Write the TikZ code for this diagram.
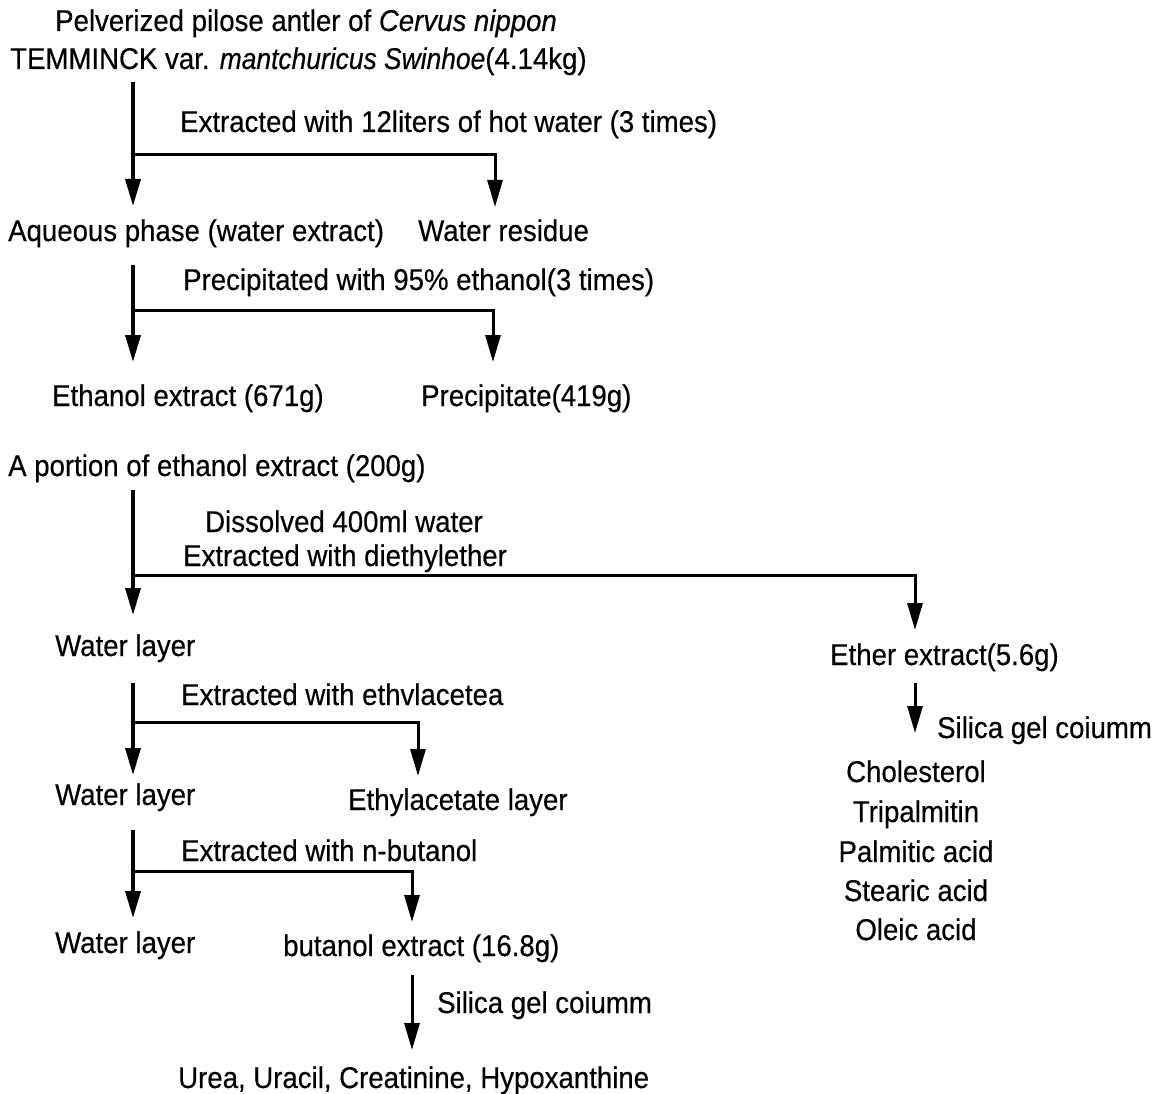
\documentclass[tikz,border=0pt]{standalone}
\usepackage{fontspec}
\setmainfont[FakeStretch=0.92,FakeBold=0.4]{Liberation Sans}
\usetikzlibrary{arrows.meta}
\tikzset{
  txt/.style={inner sep=0pt, anchor=base west, font=\fontsize{30}{36}\selectfont},
  ctxt/.style={inner sep=0pt, anchor=base, font=\fontsize{30}{36}\selectfont},
  mainline/.style={line width=3.6pt, -{Triangle[width=15pt,length=27pt]}},
  branch/.style={line width=3pt, -{Triangle[width=15pt,length=27pt]}},
}
\begin{document}
\begin{tikzpicture}[x=1pt,y=-1pt]
\useasboundingbox[fill=white] (0,0) rectangle (1170,1094);
% texts
\node[txt] (t1) at (55,31) {Pelverized pilose antler of \textit{Cervus nippon}};
\node[txt] (t2) at (10,69) {TEMMINCK var. \textit{\addfontfeature{FakeStretch=0.88}mantchuricus Swinhoe}(4.14kg)};
\node[txt] (l1) at (180,132) {Extracted with 12liters of hot water (3 times)};
\node[txt] (aq) at (8,241) {Aqueous phase (water extract)};
\node[txt] (wr) at (418,241) {Water residue};
\node[txt] (l2) at (183,290) {Precipitated with 95\% ethanol(3 times)};
\node[txt] (ee) at (52,406) {Ethanol extract (671g)};
\node[txt] (pr) at (421,406) {Precipitate(419g)};
\node[txt] (po) at (8,476) {A portion of ethanol extract (200g)};
\node[txt] (l3a) at (205,532) {Dissolved 400ml water};
\node[txt] (l3b) at (183,566) {Extracted with diethylether};
\node[txt] (w1) at (55,656) {Water layer};
\node[txt] (et) at (830,665) {Ether extract(5.6g)};
\node[txt] (l4) at (181,705) {Extracted with ethvlacetea};
\node[txt] (s1) at (937,738) {Silica gel coiumm};
\node[ctxt] (c1) at (916,782) {Cholesterol};
\node[ctxt] (c2) at (916,822) {Tripalmitin};
\node[ctxt] (c3) at (916,862) {Palmitic acid};
\node[ctxt] (c4) at (916,901) {Stearic acid};
\node[ctxt] (c5) at (916,940) {Oleic acid};
\node[txt] (w2) at (55,805) {Water layer};
\node[txt] (ea) at (348,810) {Ethylacetate layer};
\node[txt] (l5) at (181,861) {Extracted with n-butanol};
\node[txt] (w3) at (55,953) {Water layer};
\node[txt] (bu) at (283,956) {butanol extract (16.8g)};
\node[txt] (s2) at (437,1013) {Silica gel coiumm};
\node[txt] (ur) at (178,1088) {Urea, Uracil, Creatinine, Hypoxanthine};
% junction coordinates
\coordinate (a0) at (133,82);   \coordinate (a1) at (133,206);
\coordinate (j1) at (133,155);  \coordinate (b1) at (495,207);
\coordinate (a2) at (133,265);  \coordinate (a3) at (133,362);
\coordinate (j2) at (133,310);  \coordinate (b2) at (493,362);
\coordinate (a4) at (133,490);  \coordinate (a5) at (133,615);
\coordinate (j3) at (133,575);  \coordinate (b3) at (915,630);
\coordinate (e0) at (915,683);  \coordinate (e1) at (915,733);
\coordinate (a6) at (133,683);  \coordinate (a7) at (133,775);
\coordinate (j4) at (133,722);  \coordinate (b4) at (418,776);
\coordinate (a8) at (133,830);  \coordinate (a9) at (133,918);
\coordinate (j5) at (133,871);  \coordinate (b5) at (412,922);
\coordinate (u0) at (412,975);  \coordinate (u1) at (412,1050);
% connectors
\draw[mainline] (a0) -- (a1);
\draw[branch] (j1) -| (b1);
\draw[mainline] (a2) -- (a3);
\draw[branch] (j2) -| (b2);
\draw[mainline] (a4) -- (a5);
\draw[branch] (j3) -| (b3);
\draw[branch] (e0) -- (e1);
\draw[mainline] (a6) -- (a7);
\draw[branch] (j4) -| (b4);
\draw[mainline] (a8) -- (a9);
\draw[branch] (j5) -| (b5);
\draw[branch] (u0) -- (u1);
\end{tikzpicture}
\end{document}
